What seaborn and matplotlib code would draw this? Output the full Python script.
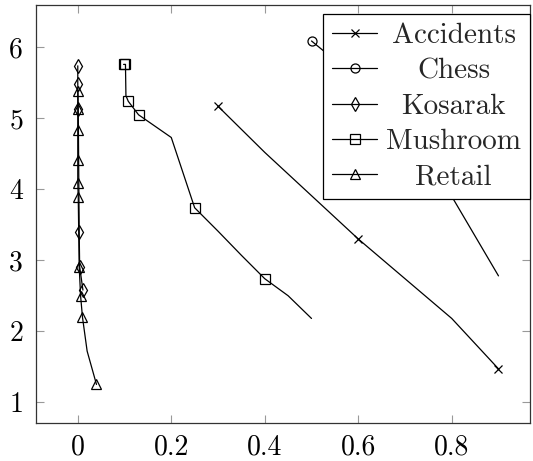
import matplotlib
matplotlib.use("Agg")
import matplotlib.pyplot as plt
import seaborn as sns
from matplotlib.ticker import FixedLocator, FixedFormatter

# Series data (x, y)
accidents_x = [0.3, 0.4, 0.5, 0.6, 0.7, 0.8, 0.9]
accidents_y = [5.17, 4.52, 3.91, 3.30, 2.74, 2.18, 1.47]

chess_x = [0.5, 0.6, 0.7, 0.8, 0.9]
chess_y = [6.09, 5.55, 4.75, 3.90, 2.78]

kosarak_x = [0.0, 0.0, 0.001, 0.003, 0.004, 0.011]
kosarak_y = [5.74, 5.49, 5.13, 3.40, 2.91, 2.58]

mushroom_x = [0.098, 0.102, 0.103, 0.108, 0.13, 0.2, 0.25, 0.3, 0.35, 0.4, 0.45, 0.5]
mushroom_y = [5.76, 5.76, 5.32, 5.24, 5.05, 4.73, 3.74, 3.41, 3.07, 2.74, 2.50, 2.18]

retail_x = [0.0, 0.0, 0.0, 0.0, 0.0, 0.001, 0.003, 0.006, 0.01, 0.02, 0.04]
retail_y = [5.39, 5.13, 4.84, 4.41, 4.09, 3.89, 2.91, 2.50, 2.20, 1.72, 1.25]

series_names = ["Accidents", "Chess", "Kosarak", "Mushroom", "Retail"]

x_ticks = [0, 0.2, 0.4, 0.6, 0.8]
x_tick_labels = ["0", "0.2", "0.4", "0.6", "0.8"]
y_ticks = [1, 2, 3, 4, 5, 6]
y_tick_labels = ["1", "2", "3", "4", "5", "6"]

sns.set_theme(style="ticks")
plt.rcParams["font.family"] = ["cmr10", "DejaVu Serif"]
plt.rcParams["axes.formatter.use_mathtext"] = True

fig = plt.figure(figsize=(5.33, 4.61), dpi=100)
ax = fig.add_axes([0.067, 0.082, 0.927, 0.907])

styles = [
    (accidents_x, accidents_y, "x", 6.0, [0, 3, 6]),
    (chess_x, chess_y, "o", 6.5, [0]),
    (kosarak_x, kosarak_y, "d", 7.5, None),
    (mushroom_x, mushroom_y, "s", 7.5, [0, 1, 3, 4, 6, 9]),
    (retail_x, retail_y, "^", 7.5, [0, 1, 2, 3, 4, 5, 6, 7, 8, 10]),
]

lines = []
for (xs, ys, mk, ms, every), name in zip(styles, series_names):
    sns.lineplot(x=xs, y=ys, sort=False, estimator=None, ax=ax,
                 color="black", linewidth=0.9, marker=mk, markersize=ms,
                 markerfacecolor="none", markeredgecolor="black",
                 markeredgewidth=0.9, label=name, legend=False)
    lines.append((ax.lines[-1], every))

ax.set_xlim(-0.09, 0.967)
ax.set_ylim(0.704, 6.596)

ax.xaxis.set_major_locator(FixedLocator(x_ticks))
ax.xaxis.set_major_formatter(FixedFormatter(x_tick_labels))
ax.yaxis.set_major_locator(FixedLocator(y_ticks))
ax.yaxis.set_major_formatter(FixedFormatter(y_tick_labels))

ax.tick_params(axis="both", direction="in", length=6, width=0.8,
               color="#999999", labelsize=20, top=True, right=True,
               labelcolor="black")
ax.tick_params(axis="x", pad=8)
ax.tick_params(axis="y", pad=9)
for sp in ax.spines.values():
    sp.set_color("#333333")
    sp.set_linewidth(0.9)

leg = ax.legend(loc="upper right", bbox_to_anchor=(1.0, 0.978), fontsize=21,
                numpoints=1, handlelength=1.55, handletextpad=0.3,
                labelspacing=0.3, borderpad=0.3, borderaxespad=0.0,
                frameon=True, fancybox=False, framealpha=1.0,
                edgecolor="black")
leg.get_frame().set_linewidth(0.9)

# markers only on selected points of each series
for ln, every in lines:
    if every is not None:
        ln.set_markevery(every)

# centre the legend entries within the text column
fig.canvas.draw()
renderer = fig.canvas.get_renderer()
texts = leg.get_texts()
widths = [t.get_window_extent(renderer).width for t in texts]
wmax = max(widths)
for t, w in zip(texts, widths):
    t.set_position(((wmax - w) / 2.0, 0))

fig.savefig("out.png", dpi=100, facecolor="white")
